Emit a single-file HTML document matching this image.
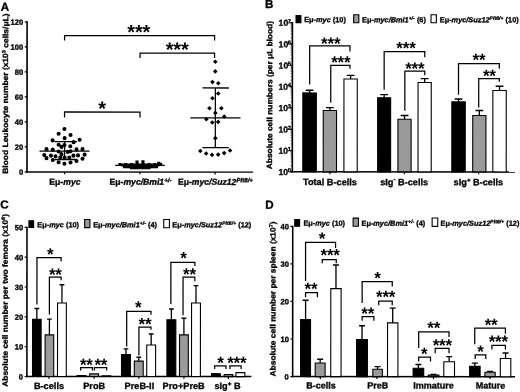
<!DOCTYPE html>
<html><head><meta charset="utf-8"><title>Figure</title>
<style>html,body{margin:0;padding:0;background:#fff;}svg{display:block;will-change:transform;}text{font-family:'Liberation Sans', sans-serif;font-weight:bold;fill:#000;stroke:#000;stroke-width:0.32px;}.st{stroke:none;}</style>
</head><body>
<svg width="520" height="392" viewBox="0 0 520 392">
<rect width="520" height="392" fill="#fff"/>
<g transform="rotate(0.03 260 196)"><!--ROOTG-->
<text x="0.70" y="10.80" font-size="11.6" text-anchor="start" >A</text>
<text x="265.00" y="8.10" font-size="11.6" text-anchor="start" >B</text>
<text x="0.20" y="208.60" font-size="11.6" text-anchor="start" >C</text>
<text x="265.20" y="208.80" font-size="11.6" text-anchor="start" >D</text>
<line x1="27.00" y1="21.40" x2="27.00" y2="172.80" stroke="#000" stroke-width="1.6" stroke-linecap="butt"/>
<line x1="26.20" y1="172.10" x2="253.10" y2="172.10" stroke="#000" stroke-width="1.35" stroke-linecap="butt"/>
<line x1="24.70" y1="172.00" x2="27.00" y2="172.00" stroke="#000" stroke-width="1.2" stroke-linecap="butt"/>
<text x="23.20" y="174.95" font-size="7.6" text-anchor="end" >0</text>
<line x1="24.70" y1="147.00" x2="27.00" y2="147.00" stroke="#000" stroke-width="1.2" stroke-linecap="butt"/>
<text x="23.20" y="149.95" font-size="7.6" text-anchor="end" >20</text>
<line x1="24.70" y1="122.00" x2="27.00" y2="122.00" stroke="#000" stroke-width="1.2" stroke-linecap="butt"/>
<text x="23.20" y="124.95" font-size="7.6" text-anchor="end" >40</text>
<line x1="24.70" y1="97.00" x2="27.00" y2="97.00" stroke="#000" stroke-width="1.2" stroke-linecap="butt"/>
<text x="23.20" y="99.95" font-size="7.6" text-anchor="end" >60</text>
<line x1="24.70" y1="72.00" x2="27.00" y2="72.00" stroke="#000" stroke-width="1.2" stroke-linecap="butt"/>
<text x="23.20" y="74.95" font-size="7.6" text-anchor="end" >80</text>
<line x1="24.70" y1="47.00" x2="27.00" y2="47.00" stroke="#000" stroke-width="1.2" stroke-linecap="butt"/>
<text x="23.20" y="49.95" font-size="7.6" text-anchor="end" >100</text>
<line x1="24.70" y1="22.00" x2="27.00" y2="22.00" stroke="#000" stroke-width="1.2" stroke-linecap="butt"/>
<text x="23.20" y="24.95" font-size="7.6" text-anchor="end" >120</text>
<text transform="translate(8.05,173.9) rotate(-90) scale(1.097,1)" font-size="7.7">Blood Leukocyte number (x10<tspan dy="-2.7" font-size="5.1">3</tspan><tspan dy="2.7" font-size="7.7"> cells/μL)</tspan></text>
<line x1="64.60" y1="172.00" x2="64.60" y2="174.40" stroke="#000" stroke-width="1.2" stroke-linecap="butt"/>
<line x1="139.80" y1="172.00" x2="139.80" y2="174.40" stroke="#000" stroke-width="1.2" stroke-linecap="butt"/>
<line x1="215.10" y1="172.00" x2="215.10" y2="174.40" stroke="#000" stroke-width="1.2" stroke-linecap="butt"/>
<text x="49.30" y="184.90" font-size="8.65" text-anchor="start" >Eμ-<tspan font-style="italic">myc</tspan></text>
<text x="109.50" y="184.90" font-size="8.65" text-anchor="start" >Eμ-<tspan font-style="italic">myc</tspan><tspan font-style="italic">/Bmi1</tspan><tspan dy="-2.68" font-size="6.14" font-style="italic" letter-spacing="0">+/-</tspan><tspan dy="2.68" font-size="8.65">&#8203;</tspan></text>
<text x="177.90" y="184.90" font-size="8.65" text-anchor="start" >Eμ-<tspan font-style="italic">myc</tspan><tspan font-style="italic">/Suz12</tspan><tspan dy="-2.68" font-size="6.14" font-style="italic" letter-spacing="0">Plt8/+</tspan><tspan dy="2.68" font-size="8.65">&#8203;</tspan></text>
<circle cx="64.40" cy="129.10" r="2.05"/>
<circle cx="58.60" cy="133.90" r="2.05"/>
<circle cx="70.50" cy="135.10" r="2.05"/>
<circle cx="64.60" cy="138.25" r="2.05"/>
<circle cx="52.60" cy="140.50" r="2.05"/>
<circle cx="79.60" cy="139.90" r="2.05"/>
<circle cx="73.60" cy="142.25" r="2.05"/>
<circle cx="58.60" cy="144.90" r="2.05"/>
<circle cx="64.40" cy="145.10" r="2.05"/>
<circle cx="61.50" cy="147.00" r="2.05"/>
<circle cx="70.25" cy="146.40" r="2.05"/>
<circle cx="46.50" cy="149.25" r="2.05"/>
<circle cx="52.75" cy="149.75" r="2.05"/>
<circle cx="76.50" cy="149.50" r="2.05"/>
<circle cx="82.50" cy="149.25" r="2.05"/>
<circle cx="58.60" cy="151.60" r="2.05"/>
<circle cx="67.75" cy="152.00" r="2.05"/>
<circle cx="70.50" cy="151.40" r="2.05"/>
<circle cx="61.50" cy="154.25" r="2.05"/>
<circle cx="44.25" cy="155.10" r="2.05"/>
<circle cx="84.60" cy="154.75" r="2.05"/>
<circle cx="50.90" cy="155.75" r="2.05"/>
<circle cx="55.50" cy="156.40" r="2.05"/>
<circle cx="73.40" cy="155.75" r="2.05"/>
<circle cx="78.00" cy="155.50" r="2.05"/>
<circle cx="46.50" cy="158.25" r="2.05"/>
<circle cx="60.25" cy="157.60" r="2.05"/>
<circle cx="64.60" cy="157.60" r="2.05"/>
<circle cx="69.25" cy="157.60" r="2.05"/>
<circle cx="82.50" cy="158.90" r="2.05"/>
<circle cx="52.75" cy="160.10" r="2.05"/>
<circle cx="76.50" cy="161.10" r="2.05"/>
<circle cx="58.60" cy="162.40" r="2.05"/>
<circle cx="70.50" cy="162.60" r="2.05"/>
<circle cx="64.40" cy="163.90" r="2.05"/>
<line x1="39.50" y1="151.30" x2="89.50" y2="151.30" stroke="#000" stroke-width="1.3" stroke-linecap="butt"/>
<line x1="64.60" y1="141.80" x2="64.60" y2="159.60" stroke="#000" stroke-width="1.2" stroke-linecap="butt"/>
<line x1="54.50" y1="141.80" x2="77.00" y2="141.80" stroke="#000" stroke-width="1.3" stroke-linecap="butt"/>
<line x1="54.50" y1="159.60" x2="77.00" y2="159.60" stroke="#000" stroke-width="1.3" stroke-linecap="butt"/>
<rect x="118.40" y="163.10" width="3.2" height="3.0"/>
<rect x="121.30" y="163.45" width="3.2" height="3.0"/>
<rect x="124.20" y="163.10" width="3.2" height="3.0"/>
<rect x="127.10" y="163.45" width="3.2" height="3.0"/>
<rect x="130.00" y="163.10" width="3.2" height="3.0"/>
<rect x="132.90" y="163.45" width="3.2" height="3.0"/>
<rect x="135.80" y="163.10" width="3.2" height="3.0"/>
<rect x="138.70" y="163.45" width="3.2" height="3.0"/>
<rect x="141.60" y="163.10" width="3.2" height="3.0"/>
<rect x="144.50" y="163.45" width="3.2" height="3.0"/>
<rect x="147.40" y="163.10" width="3.2" height="3.0"/>
<rect x="150.30" y="163.45" width="3.2" height="3.0"/>
<rect x="153.20" y="163.10" width="3.2" height="3.0"/>
<rect x="156.10" y="163.45" width="3.2" height="3.0"/>
<rect x="159.00" y="163.10" width="3.2" height="3.0"/>
<rect x="122.90" y="165.40" width="3.2" height="3.0"/>
<rect x="125.80" y="165.20" width="3.2" height="3.0"/>
<rect x="128.70" y="165.20" width="3.2" height="3.0"/>
<rect x="131.60" y="165.40" width="3.2" height="3.0"/>
<rect x="134.50" y="165.20" width="3.2" height="3.0"/>
<rect x="137.40" y="165.20" width="3.2" height="3.0"/>
<rect x="140.30" y="165.40" width="3.2" height="3.0"/>
<rect x="143.20" y="165.20" width="3.2" height="3.0"/>
<rect x="146.10" y="165.20" width="3.2" height="3.0"/>
<rect x="149.00" y="165.40" width="3.2" height="3.0"/>
<rect x="151.90" y="165.20" width="3.2" height="3.0"/>
<rect x="154.80" y="165.20" width="3.2" height="3.0"/>
<rect x="129.90" y="166.35" width="3.2" height="3.0"/>
<rect x="132.80" y="166.35" width="3.2" height="3.0"/>
<rect x="135.70" y="166.35" width="3.2" height="3.0"/>
<rect x="138.60" y="166.35" width="3.2" height="3.0"/>
<rect x="141.50" y="166.35" width="3.2" height="3.0"/>
<rect x="144.40" y="166.35" width="3.2" height="3.0"/>
<rect x="147.30" y="166.35" width="3.2" height="3.0"/>
<rect x="135.40" y="160.50" width="3.2" height="3.0"/>
<rect x="141.30" y="160.40" width="3.2" height="3.0"/>
<rect x="157.20" y="161.90" width="3.2" height="3.0"/>
<line x1="115.20" y1="165.45" x2="164.80" y2="165.45" stroke="#000" stroke-width="1.3" stroke-linecap="butt"/>
<path d="M215.20 59.50L217.50 61.80L215.20 64.10L212.90 61.80Z"/>
<path d="M215.20 69.10L217.50 71.40L215.20 73.70L212.90 71.40Z"/>
<path d="M212.40 79.80L214.70 82.10L212.40 84.40L210.10 82.10Z"/>
<path d="M218.20 81.00L220.50 83.30L218.20 85.60L215.90 83.30Z"/>
<path d="M218.20 91.20L220.50 93.50L218.20 95.80L215.90 93.50Z"/>
<path d="M212.40 96.00L214.70 98.30L212.40 100.60L210.10 98.30Z"/>
<path d="M209.40 106.00L211.70 108.30L209.40 110.60L207.10 108.30Z"/>
<path d="M221.30 106.00L223.60 108.30L221.30 110.60L219.00 108.30Z"/>
<path d="M215.30 110.60L217.60 112.90L215.30 115.20L213.00 112.90Z"/>
<path d="M224.20 114.20L226.50 116.50L224.20 118.80L221.90 116.50Z"/>
<path d="M206.30 117.00L208.60 119.30L206.30 121.60L204.00 119.30Z"/>
<path d="M212.20 120.20L214.50 122.50L212.20 124.80L209.90 122.50Z"/>
<path d="M218.10 119.60L220.40 121.90L218.10 124.20L215.80 121.90Z"/>
<path d="M215.30 135.85L217.60 138.15L215.30 140.45L213.00 138.15Z"/>
<path d="M200.30 148.80L202.60 151.10L200.30 153.40L198.00 151.10Z"/>
<path d="M206.15 151.20L208.45 153.50L206.15 155.80L203.85 153.50Z"/>
<path d="M212.00 152.60L214.30 154.90L212.00 157.20L209.70 154.90Z"/>
<path d="M218.15 152.30L220.45 154.60L218.15 156.90L215.85 154.60Z"/>
<path d="M224.15 150.80L226.45 153.10L224.15 155.40L221.85 153.10Z"/>
<path d="M230.00 148.20L232.30 150.50L230.00 152.80L227.70 150.50Z"/>
<line x1="190.30" y1="117.90" x2="240.50" y2="117.90" stroke="#000" stroke-width="1.3" stroke-linecap="butt"/>
<line x1="215.30" y1="88.00" x2="215.30" y2="147.70" stroke="#000" stroke-width="1.25" stroke-linecap="butt"/>
<line x1="202.40" y1="88.00" x2="228.80" y2="88.00" stroke="#000" stroke-width="1.3" stroke-linecap="butt"/>
<line x1="202.40" y1="147.70" x2="228.80" y2="147.70" stroke="#000" stroke-width="1.3" stroke-linecap="butt"/>
<path d="M64.50 40.50V35.70H214.50V40.50" fill="none" stroke="#000" stroke-width="1.25"/>
<text x="138.65" y="38.90" font-size="20.0" text-anchor="middle" letter-spacing="-0.2" class="st">***</text>
<path d="M140.00 58.00V53.10H214.50V58.00" fill="none" stroke="#000" stroke-width="1.25"/>
<text x="177.05" y="56.30" font-size="20.0" text-anchor="middle" letter-spacing="-0.2" class="st">***</text>
<path d="M64.50 117.60V112.10H140.00V117.60" fill="none" stroke="#000" stroke-width="1.25"/>
<text x="102.05" y="115.30" font-size="20.0" text-anchor="middle" letter-spacing="-0.2" class="st">*</text>
<line x1="292.30" y1="22.03" x2="292.30" y2="172.60" stroke="#000" stroke-width="1.6" stroke-linecap="butt"/>
<line x1="291.50" y1="171.80" x2="515.00" y2="171.80" stroke="#000" stroke-width="1.5" stroke-linecap="butt"/>
<line x1="290.10" y1="171.80" x2="292.30" y2="171.80" stroke="#000" stroke-width="1.2" stroke-linecap="butt"/>
<text x="288.10" y="175.00" font-size="8.6" text-anchor="end">10</text>
<text x="287.70" y="172.30" font-size="5.9">0</text>
<line x1="290.50" y1="165.39" x2="292.30" y2="165.39" stroke="#000" stroke-width="0.5" stroke-linecap="butt"/>
<line x1="290.50" y1="161.63" x2="292.30" y2="161.63" stroke="#000" stroke-width="0.5" stroke-linecap="butt"/>
<line x1="290.50" y1="158.97" x2="292.30" y2="158.97" stroke="#000" stroke-width="0.5" stroke-linecap="butt"/>
<line x1="290.50" y1="156.90" x2="292.30" y2="156.90" stroke="#000" stroke-width="0.5" stroke-linecap="butt"/>
<line x1="290.50" y1="155.22" x2="292.30" y2="155.22" stroke="#000" stroke-width="0.5" stroke-linecap="butt"/>
<line x1="290.50" y1="153.79" x2="292.30" y2="153.79" stroke="#000" stroke-width="0.5" stroke-linecap="butt"/>
<line x1="290.50" y1="152.56" x2="292.30" y2="152.56" stroke="#000" stroke-width="0.5" stroke-linecap="butt"/>
<line x1="290.50" y1="151.47" x2="292.30" y2="151.47" stroke="#000" stroke-width="0.5" stroke-linecap="butt"/>
<line x1="290.10" y1="150.49" x2="292.30" y2="150.49" stroke="#000" stroke-width="1.2" stroke-linecap="butt"/>
<text x="288.10" y="153.69" font-size="8.6" text-anchor="end">10</text>
<text x="287.70" y="150.99" font-size="5.9">1</text>
<line x1="290.50" y1="144.08" x2="292.30" y2="144.08" stroke="#000" stroke-width="0.5" stroke-linecap="butt"/>
<line x1="290.50" y1="140.32" x2="292.30" y2="140.32" stroke="#000" stroke-width="0.5" stroke-linecap="butt"/>
<line x1="290.50" y1="137.66" x2="292.30" y2="137.66" stroke="#000" stroke-width="0.5" stroke-linecap="butt"/>
<line x1="290.50" y1="135.59" x2="292.30" y2="135.59" stroke="#000" stroke-width="0.5" stroke-linecap="butt"/>
<line x1="290.50" y1="133.91" x2="292.30" y2="133.91" stroke="#000" stroke-width="0.5" stroke-linecap="butt"/>
<line x1="290.50" y1="132.48" x2="292.30" y2="132.48" stroke="#000" stroke-width="0.5" stroke-linecap="butt"/>
<line x1="290.50" y1="131.25" x2="292.30" y2="131.25" stroke="#000" stroke-width="0.5" stroke-linecap="butt"/>
<line x1="290.50" y1="130.16" x2="292.30" y2="130.16" stroke="#000" stroke-width="0.5" stroke-linecap="butt"/>
<line x1="290.10" y1="129.18" x2="292.30" y2="129.18" stroke="#000" stroke-width="1.2" stroke-linecap="butt"/>
<text x="288.10" y="132.38" font-size="8.6" text-anchor="end">10</text>
<text x="287.70" y="129.68" font-size="5.9">2</text>
<line x1="290.50" y1="122.77" x2="292.30" y2="122.77" stroke="#000" stroke-width="0.5" stroke-linecap="butt"/>
<line x1="290.50" y1="119.01" x2="292.30" y2="119.01" stroke="#000" stroke-width="0.5" stroke-linecap="butt"/>
<line x1="290.50" y1="116.35" x2="292.30" y2="116.35" stroke="#000" stroke-width="0.5" stroke-linecap="butt"/>
<line x1="290.50" y1="114.28" x2="292.30" y2="114.28" stroke="#000" stroke-width="0.5" stroke-linecap="butt"/>
<line x1="290.50" y1="112.60" x2="292.30" y2="112.60" stroke="#000" stroke-width="0.5" stroke-linecap="butt"/>
<line x1="290.50" y1="111.17" x2="292.30" y2="111.17" stroke="#000" stroke-width="0.5" stroke-linecap="butt"/>
<line x1="290.50" y1="109.94" x2="292.30" y2="109.94" stroke="#000" stroke-width="0.5" stroke-linecap="butt"/>
<line x1="290.50" y1="108.85" x2="292.30" y2="108.85" stroke="#000" stroke-width="0.5" stroke-linecap="butt"/>
<line x1="290.10" y1="107.87" x2="292.30" y2="107.87" stroke="#000" stroke-width="1.2" stroke-linecap="butt"/>
<text x="288.10" y="111.07" font-size="8.6" text-anchor="end">10</text>
<text x="287.70" y="108.37" font-size="5.9">3</text>
<line x1="290.50" y1="101.46" x2="292.30" y2="101.46" stroke="#000" stroke-width="0.5" stroke-linecap="butt"/>
<line x1="290.50" y1="97.70" x2="292.30" y2="97.70" stroke="#000" stroke-width="0.5" stroke-linecap="butt"/>
<line x1="290.50" y1="95.04" x2="292.30" y2="95.04" stroke="#000" stroke-width="0.5" stroke-linecap="butt"/>
<line x1="290.50" y1="92.97" x2="292.30" y2="92.97" stroke="#000" stroke-width="0.5" stroke-linecap="butt"/>
<line x1="290.50" y1="91.29" x2="292.30" y2="91.29" stroke="#000" stroke-width="0.5" stroke-linecap="butt"/>
<line x1="290.50" y1="89.86" x2="292.30" y2="89.86" stroke="#000" stroke-width="0.5" stroke-linecap="butt"/>
<line x1="290.50" y1="88.63" x2="292.30" y2="88.63" stroke="#000" stroke-width="0.5" stroke-linecap="butt"/>
<line x1="290.50" y1="87.54" x2="292.30" y2="87.54" stroke="#000" stroke-width="0.5" stroke-linecap="butt"/>
<line x1="290.10" y1="86.56" x2="292.30" y2="86.56" stroke="#000" stroke-width="1.2" stroke-linecap="butt"/>
<text x="288.10" y="89.76" font-size="8.6" text-anchor="end">10</text>
<text x="287.70" y="87.06" font-size="5.9">4</text>
<line x1="290.50" y1="80.15" x2="292.30" y2="80.15" stroke="#000" stroke-width="0.5" stroke-linecap="butt"/>
<line x1="290.50" y1="76.39" x2="292.30" y2="76.39" stroke="#000" stroke-width="0.5" stroke-linecap="butt"/>
<line x1="290.50" y1="73.73" x2="292.30" y2="73.73" stroke="#000" stroke-width="0.5" stroke-linecap="butt"/>
<line x1="290.50" y1="71.66" x2="292.30" y2="71.66" stroke="#000" stroke-width="0.5" stroke-linecap="butt"/>
<line x1="290.50" y1="69.98" x2="292.30" y2="69.98" stroke="#000" stroke-width="0.5" stroke-linecap="butt"/>
<line x1="290.50" y1="68.55" x2="292.30" y2="68.55" stroke="#000" stroke-width="0.5" stroke-linecap="butt"/>
<line x1="290.50" y1="67.32" x2="292.30" y2="67.32" stroke="#000" stroke-width="0.5" stroke-linecap="butt"/>
<line x1="290.50" y1="66.23" x2="292.30" y2="66.23" stroke="#000" stroke-width="0.5" stroke-linecap="butt"/>
<line x1="290.10" y1="65.25" x2="292.30" y2="65.25" stroke="#000" stroke-width="1.2" stroke-linecap="butt"/>
<text x="288.10" y="68.45" font-size="8.6" text-anchor="end">10</text>
<text x="287.70" y="65.75" font-size="5.9">5</text>
<line x1="290.50" y1="58.84" x2="292.30" y2="58.84" stroke="#000" stroke-width="0.5" stroke-linecap="butt"/>
<line x1="290.50" y1="55.08" x2="292.30" y2="55.08" stroke="#000" stroke-width="0.5" stroke-linecap="butt"/>
<line x1="290.50" y1="52.42" x2="292.30" y2="52.42" stroke="#000" stroke-width="0.5" stroke-linecap="butt"/>
<line x1="290.50" y1="50.35" x2="292.30" y2="50.35" stroke="#000" stroke-width="0.5" stroke-linecap="butt"/>
<line x1="290.50" y1="48.67" x2="292.30" y2="48.67" stroke="#000" stroke-width="0.5" stroke-linecap="butt"/>
<line x1="290.50" y1="47.24" x2="292.30" y2="47.24" stroke="#000" stroke-width="0.5" stroke-linecap="butt"/>
<line x1="290.50" y1="46.01" x2="292.30" y2="46.01" stroke="#000" stroke-width="0.5" stroke-linecap="butt"/>
<line x1="290.50" y1="44.92" x2="292.30" y2="44.92" stroke="#000" stroke-width="0.5" stroke-linecap="butt"/>
<line x1="290.10" y1="43.94" x2="292.30" y2="43.94" stroke="#000" stroke-width="1.2" stroke-linecap="butt"/>
<text x="288.10" y="47.14" font-size="8.6" text-anchor="end">10</text>
<text x="287.70" y="44.44" font-size="5.9">6</text>
<line x1="290.50" y1="37.53" x2="292.30" y2="37.53" stroke="#000" stroke-width="0.5" stroke-linecap="butt"/>
<line x1="290.50" y1="33.77" x2="292.30" y2="33.77" stroke="#000" stroke-width="0.5" stroke-linecap="butt"/>
<line x1="290.50" y1="31.11" x2="292.30" y2="31.11" stroke="#000" stroke-width="0.5" stroke-linecap="butt"/>
<line x1="290.50" y1="29.04" x2="292.30" y2="29.04" stroke="#000" stroke-width="0.5" stroke-linecap="butt"/>
<line x1="290.50" y1="27.36" x2="292.30" y2="27.36" stroke="#000" stroke-width="0.5" stroke-linecap="butt"/>
<line x1="290.50" y1="25.93" x2="292.30" y2="25.93" stroke="#000" stroke-width="0.5" stroke-linecap="butt"/>
<line x1="290.50" y1="24.70" x2="292.30" y2="24.70" stroke="#000" stroke-width="0.5" stroke-linecap="butt"/>
<line x1="290.50" y1="23.61" x2="292.30" y2="23.61" stroke="#000" stroke-width="0.5" stroke-linecap="butt"/>
<line x1="290.10" y1="22.63" x2="292.30" y2="22.63" stroke="#000" stroke-width="1.2" stroke-linecap="butt"/>
<text x="288.10" y="25.83" font-size="8.6" text-anchor="end">10</text>
<text x="287.70" y="23.13" font-size="5.9">7</text>
<text transform="translate(272.1,169.2) rotate(-90) scale(1.09,1)" font-size="7.69">Absolute cell numbers (per μL blood)</text>
<rect x="295.95" y="15.65" width="4.90" height="7.00" fill="#000" stroke="#000" stroke-width="1.1"/>
<text x="304.10" y="22.10" font-size="7.35" text-anchor="start" >Eμ-<tspan font-style="italic">myc</tspan> (10)</text>
<rect x="353.55" y="14.75" width="5.20" height="7.90" fill="#9a9a9a" stroke="#000" stroke-width="1.1"/>
<text x="362.00" y="22.10" font-size="7.35" text-anchor="start" >Eμ-<tspan font-style="italic">myc</tspan><tspan font-style="italic">/Bmi1</tspan><tspan dy="-2.50" font-size="4.85" font-style="italic" letter-spacing="0.15">+/-</tspan><tspan dy="2.50" font-size="7.35">&#8203;</tspan> (6)</text>
<rect x="430.95" y="14.65" width="5.30" height="8.00" fill="#fff" stroke="#000" stroke-width="1.1"/>
<text x="439.70" y="22.10" font-size="7.35" text-anchor="start" >Eμ-<tspan font-style="italic">myc</tspan><tspan font-style="italic">/Suz12</tspan><tspan dy="-2.50" font-size="4.85" font-style="italic" letter-spacing="0.15">Plt8/+</tspan><tspan dy="2.50" font-size="7.35">&#8203;</tspan> (10)</text>
<line x1="309.55" y1="92.90" x2="309.55" y2="90.20" stroke="#000" stroke-width="1.3" stroke-linecap="butt"/>
<line x1="305.65" y1="90.20" x2="313.45" y2="90.20" stroke="#000" stroke-width="1.35" stroke-linecap="butt"/>
<rect x="302.80" y="92.90" width="13.50" height="78.90" fill="#000" stroke="#000" stroke-width="1.1"/>
<line x1="329.85" y1="110.40" x2="329.85" y2="107.60" stroke="#000" stroke-width="1.3" stroke-linecap="butt"/>
<line x1="325.95" y1="107.60" x2="333.75" y2="107.60" stroke="#000" stroke-width="1.35" stroke-linecap="butt"/>
<rect x="323.20" y="110.40" width="13.30" height="61.40" fill="#9a9a9a" stroke="#000" stroke-width="1.1"/>
<line x1="350.55" y1="79.00" x2="350.55" y2="75.30" stroke="#000" stroke-width="1.3" stroke-linecap="butt"/>
<line x1="346.65" y1="75.30" x2="354.45" y2="75.30" stroke="#000" stroke-width="1.35" stroke-linecap="butt"/>
<rect x="343.90" y="79.00" width="13.30" height="92.80" fill="#fff" stroke="#000" stroke-width="1.1"/>
<line x1="384.10" y1="97.75" x2="384.10" y2="94.50" stroke="#000" stroke-width="1.3" stroke-linecap="butt"/>
<line x1="380.20" y1="94.50" x2="388.00" y2="94.50" stroke="#000" stroke-width="1.35" stroke-linecap="butt"/>
<rect x="377.60" y="97.75" width="13.00" height="74.05" fill="#000" stroke="#000" stroke-width="1.1"/>
<line x1="404.50" y1="119.20" x2="404.50" y2="115.40" stroke="#000" stroke-width="1.3" stroke-linecap="butt"/>
<line x1="400.60" y1="115.40" x2="408.40" y2="115.40" stroke="#000" stroke-width="1.35" stroke-linecap="butt"/>
<rect x="397.90" y="119.20" width="13.20" height="52.60" fill="#9a9a9a" stroke="#000" stroke-width="1.1"/>
<line x1="424.60" y1="82.40" x2="424.60" y2="78.60" stroke="#000" stroke-width="1.3" stroke-linecap="butt"/>
<line x1="420.70" y1="78.60" x2="428.50" y2="78.60" stroke="#000" stroke-width="1.35" stroke-linecap="butt"/>
<rect x="418.00" y="82.40" width="13.20" height="89.40" fill="#fff" stroke="#000" stroke-width="1.1"/>
<line x1="458.50" y1="101.80" x2="458.50" y2="98.90" stroke="#000" stroke-width="1.3" stroke-linecap="butt"/>
<line x1="454.60" y1="98.90" x2="462.40" y2="98.90" stroke="#000" stroke-width="1.35" stroke-linecap="butt"/>
<rect x="451.80" y="101.80" width="13.40" height="70.00" fill="#000" stroke="#000" stroke-width="1.1"/>
<line x1="479.30" y1="115.40" x2="479.30" y2="110.40" stroke="#000" stroke-width="1.3" stroke-linecap="butt"/>
<line x1="475.40" y1="110.40" x2="483.20" y2="110.40" stroke="#000" stroke-width="1.35" stroke-linecap="butt"/>
<rect x="472.70" y="115.40" width="13.20" height="56.40" fill="#9a9a9a" stroke="#000" stroke-width="1.1"/>
<line x1="499.50" y1="90.40" x2="499.50" y2="86.10" stroke="#000" stroke-width="1.3" stroke-linecap="butt"/>
<line x1="495.60" y1="86.10" x2="503.40" y2="86.10" stroke="#000" stroke-width="1.35" stroke-linecap="butt"/>
<rect x="492.80" y="90.40" width="13.40" height="81.40" fill="#fff" stroke="#000" stroke-width="1.1"/>
<path d="M309.60 84.50V45.90H349.90V51.50" fill="none" stroke="#000" stroke-width="1.25"/>
<text x="330.60" y="49.27" font-size="17.0" text-anchor="middle" letter-spacing="-0.2" class="st">***</text>
<path d="M330.70 102.60V65.40H349.90V68.80" fill="none" stroke="#000" stroke-width="1.25"/>
<text x="340.75" y="67.87" font-size="17.0" text-anchor="middle" letter-spacing="-0.2" class="st">***</text>
<path d="M384.10 89.60V51.50H424.70V57.20" fill="none" stroke="#000" stroke-width="1.25"/>
<text x="405.90" y="53.57" font-size="17.0" text-anchor="middle" letter-spacing="-0.2" class="st">***</text>
<path d="M404.80 110.60V71.00H424.70V75.20" fill="none" stroke="#000" stroke-width="1.25"/>
<text x="414.70" y="74.22" font-size="17.0" text-anchor="middle" letter-spacing="-0.2" class="st">***</text>
<path d="M458.45 94.70V63.50H499.25V68.50" fill="none" stroke="#000" stroke-width="1.25"/>
<text x="478.85" y="65.32" font-size="17.0" text-anchor="middle" letter-spacing="-0.2" class="st">**</text>
<path d="M478.65 107.30V78.55H499.25V81.70" fill="none" stroke="#000" stroke-width="1.25"/>
<text x="489.25" y="81.32" font-size="17.0" text-anchor="middle" letter-spacing="-0.2" class="st">**</text>
<line x1="329.90" y1="171.80" x2="329.90" y2="174.10" stroke="#000" stroke-width="1.2" stroke-linecap="butt"/>
<line x1="404.40" y1="171.80" x2="404.40" y2="174.10" stroke="#000" stroke-width="1.2" stroke-linecap="butt"/>
<line x1="478.60" y1="171.80" x2="478.60" y2="174.10" stroke="#000" stroke-width="1.2" stroke-linecap="butt"/>
<text x="303.00" y="185.10" font-size="9.2" text-anchor="start" >Total B-cells</text>
<text x="380.2" y="185.1" font-size="9.2">sIg<tspan dy="-4.0" font-size="6">-</tspan><tspan dy="4.0" font-size="9.2"> B-cells</tspan></text>
<text x="453.6" y="185.1" font-size="9.2">sIg<tspan dy="-3.0" font-size="6.2">+</tspan><tspan dy="3.0" font-size="9.2"> B-cells</tspan></text>
<line x1="27.00" y1="226.90" x2="27.00" y2="377.40" stroke="#000" stroke-width="1.6" stroke-linecap="butt"/>
<line x1="26.20" y1="376.60" x2="251.50" y2="376.60" stroke="#000" stroke-width="1.5" stroke-linecap="butt"/>
<line x1="24.70" y1="376.60" x2="27.00" y2="376.60" stroke="#000" stroke-width="1.2" stroke-linecap="butt"/>
<text x="23.20" y="379.55" font-size="7.6" text-anchor="end" >0</text>
<line x1="24.70" y1="346.78" x2="27.00" y2="346.78" stroke="#000" stroke-width="1.2" stroke-linecap="butt"/>
<text x="23.20" y="349.73" font-size="7.6" text-anchor="end" >10</text>
<line x1="24.70" y1="316.96" x2="27.00" y2="316.96" stroke="#000" stroke-width="1.2" stroke-linecap="butt"/>
<text x="23.20" y="319.91" font-size="7.6" text-anchor="end" >20</text>
<line x1="24.70" y1="287.14" x2="27.00" y2="287.14" stroke="#000" stroke-width="1.2" stroke-linecap="butt"/>
<text x="23.20" y="290.09" font-size="7.6" text-anchor="end" >30</text>
<line x1="24.70" y1="257.32" x2="27.00" y2="257.32" stroke="#000" stroke-width="1.2" stroke-linecap="butt"/>
<text x="23.20" y="260.27" font-size="7.6" text-anchor="end" >40</text>
<line x1="24.70" y1="227.50" x2="27.00" y2="227.50" stroke="#000" stroke-width="1.2" stroke-linecap="butt"/>
<text x="23.20" y="230.45" font-size="7.6" text-anchor="end" >50</text>
<text transform="translate(7.8,386.9) rotate(-90) scale(1.09,1)" font-size="7.7">Absolute cell number per two femora (x10<tspan dy="-2.7" font-size="5.1">6</tspan><tspan dy="2.7" font-size="7.7">)</tspan></text>
<rect x="28.95" y="220.95" width="4.70" height="6.70" fill="#000" stroke="#000" stroke-width="1.1"/>
<text x="37.40" y="227.30" font-size="7.35" text-anchor="start" >Eμ-<tspan font-style="italic">myc</tspan> (10)</text>
<rect x="84.65" y="219.65" width="5.30" height="8.10" fill="#9a9a9a" stroke="#000" stroke-width="1.1"/>
<text x="93.20" y="227.30" font-size="7.35" text-anchor="start" >Eμ-<tspan font-style="italic">myc</tspan><tspan font-style="italic">/Bmi1</tspan><tspan dy="-2.50" font-size="4.85" font-style="italic" letter-spacing="0.15">+/-</tspan><tspan dy="2.50" font-size="7.35">&#8203;</tspan> (4)</text>
<rect x="163.75" y="219.55" width="5.70" height="8.20" fill="#fff" stroke="#000" stroke-width="1.1"/>
<text x="172.40" y="227.30" font-size="7.35" text-anchor="start" >Eμ-<tspan font-style="italic">myc</tspan><tspan font-style="italic">/Suz12</tspan><tspan dy="-2.50" font-size="4.85" font-style="italic" letter-spacing="0.15">Plt8/+</tspan><tspan dy="2.50" font-size="7.35">&#8203;</tspan> (12)</text>
<line x1="36.90" y1="319.50" x2="36.90" y2="308.60" stroke="#000" stroke-width="1.3" stroke-linecap="butt"/>
<line x1="34.50" y1="308.60" x2="39.30" y2="308.60" stroke="#000" stroke-width="1.35" stroke-linecap="butt"/>
<rect x="32.60" y="319.50" width="8.60" height="57.10" fill="#000" stroke="#000" stroke-width="1.1"/>
<line x1="49.50" y1="335.00" x2="49.50" y2="319.20" stroke="#000" stroke-width="1.3" stroke-linecap="butt"/>
<line x1="47.10" y1="319.20" x2="51.90" y2="319.20" stroke="#000" stroke-width="1.35" stroke-linecap="butt"/>
<rect x="45.20" y="335.00" width="8.60" height="41.60" fill="#9a9a9a" stroke="#000" stroke-width="1.1"/>
<line x1="62.00" y1="303.10" x2="62.00" y2="284.90" stroke="#000" stroke-width="1.3" stroke-linecap="butt"/>
<line x1="59.60" y1="284.90" x2="64.40" y2="284.90" stroke="#000" stroke-width="1.35" stroke-linecap="butt"/>
<rect x="57.60" y="303.10" width="8.80" height="73.50" fill="#fff" stroke="#000" stroke-width="1.1"/>
<rect x="77.20" y="375.60" width="8.80" height="1.00" fill="#000" stroke="#000" stroke-width="1.1"/>
<rect x="89.80" y="374.00" width="8.80" height="2.60" fill="#9a9a9a" stroke="#000" stroke-width="1.1"/>
<rect x="102.20" y="375.80" width="8.80" height="0.80" fill="#fff" stroke="#000" stroke-width="1.1"/>
<line x1="126.05" y1="354.60" x2="126.05" y2="349.00" stroke="#000" stroke-width="1.3" stroke-linecap="butt"/>
<line x1="123.65" y1="349.00" x2="128.45" y2="349.00" stroke="#000" stroke-width="1.35" stroke-linecap="butt"/>
<rect x="121.60" y="354.60" width="8.90" height="22.00" fill="#000" stroke="#000" stroke-width="1.1"/>
<line x1="138.85" y1="361.20" x2="138.85" y2="357.30" stroke="#000" stroke-width="1.3" stroke-linecap="butt"/>
<line x1="136.45" y1="357.30" x2="141.25" y2="357.30" stroke="#000" stroke-width="1.35" stroke-linecap="butt"/>
<rect x="134.40" y="361.20" width="8.90" height="15.40" fill="#9a9a9a" stroke="#000" stroke-width="1.1"/>
<line x1="151.25" y1="345.00" x2="151.25" y2="334.10" stroke="#000" stroke-width="1.3" stroke-linecap="butt"/>
<line x1="148.85" y1="334.10" x2="153.65" y2="334.10" stroke="#000" stroke-width="1.35" stroke-linecap="butt"/>
<rect x="146.80" y="345.00" width="8.90" height="31.60" fill="#fff" stroke="#000" stroke-width="1.1"/>
<line x1="171.45" y1="319.80" x2="171.45" y2="309.00" stroke="#000" stroke-width="1.3" stroke-linecap="butt"/>
<line x1="169.05" y1="309.00" x2="173.85" y2="309.00" stroke="#000" stroke-width="1.35" stroke-linecap="butt"/>
<rect x="167.00" y="319.80" width="8.90" height="56.80" fill="#000" stroke="#000" stroke-width="1.1"/>
<line x1="184.00" y1="334.90" x2="184.00" y2="318.30" stroke="#000" stroke-width="1.3" stroke-linecap="butt"/>
<line x1="181.60" y1="318.30" x2="186.40" y2="318.30" stroke="#000" stroke-width="1.35" stroke-linecap="butt"/>
<rect x="179.60" y="334.90" width="8.80" height="41.70" fill="#9a9a9a" stroke="#000" stroke-width="1.1"/>
<line x1="196.05" y1="303.10" x2="196.05" y2="285.70" stroke="#000" stroke-width="1.3" stroke-linecap="butt"/>
<line x1="193.65" y1="285.70" x2="198.45" y2="285.70" stroke="#000" stroke-width="1.35" stroke-linecap="butt"/>
<rect x="191.60" y="303.10" width="8.90" height="73.50" fill="#fff" stroke="#000" stroke-width="1.1"/>
<rect x="211.60" y="373.70" width="8.90" height="2.90" fill="#000" stroke="#000" stroke-width="1.1"/>
<rect x="224.30" y="374.60" width="8.50" height="2.00" fill="#9a9a9a" stroke="#000" stroke-width="1.1"/>
<rect x="236.00" y="372.60" width="8.90" height="4.00" fill="#fff" stroke="#000" stroke-width="1.1"/>
<path d="M37.00 304.50V257.80H61.15V261.30" fill="none" stroke="#000" stroke-width="1.25"/>
<text x="50.35" y="260.17" font-size="17.0" text-anchor="middle" letter-spacing="-0.2" class="st">*</text>
<path d="M49.45 314.50V277.20H61.15V280.40" fill="none" stroke="#000" stroke-width="1.25"/>
<text x="55.40" y="280.32" font-size="17.0" text-anchor="middle" letter-spacing="-0.2" class="st">**</text>
<path d="M80.75 370.70V367.80H92.50V370.70" fill="none" stroke="#000" stroke-width="1.25"/>
<text x="86.40" y="370.67" font-size="17.0" text-anchor="middle" letter-spacing="-0.2" class="st">**</text>
<path d="M94.50 370.70V367.80H106.75V370.70" fill="none" stroke="#000" stroke-width="1.25"/>
<text x="100.90" y="370.67" font-size="17.0" text-anchor="middle" letter-spacing="-0.2" class="st">**</text>
<path d="M126.75 346.60V311.35H151.05V314.85" fill="none" stroke="#000" stroke-width="1.25"/>
<text x="138.35" y="313.07" font-size="17.0" text-anchor="middle" letter-spacing="-0.2" class="st">*</text>
<path d="M139.00 355.50V327.20H151.05V329.90" fill="none" stroke="#000" stroke-width="1.25"/>
<text x="145.05" y="329.87" font-size="17.0" text-anchor="middle" letter-spacing="-0.2" class="st">**</text>
<path d="M170.90 304.10V262.40H194.90V266.00" fill="none" stroke="#000" stroke-width="1.25"/>
<text x="183.60" y="263.82" font-size="17.0" text-anchor="middle" letter-spacing="-0.2" class="st">*</text>
<path d="M183.10 315.20V277.15H194.90V281.40" fill="none" stroke="#000" stroke-width="1.25"/>
<text x="189.50" y="280.17" font-size="17.0" text-anchor="middle" letter-spacing="-0.2" class="st">**</text>
<path d="M214.70 368.90V365.90H226.10V368.90" fill="none" stroke="#000" stroke-width="1.25"/>
<text x="220.50" y="368.52" font-size="17.0" text-anchor="middle" letter-spacing="-0.2" class="st">*</text>
<path d="M230.00 368.90V365.90H241.20V368.90" fill="none" stroke="#000" stroke-width="1.25"/>
<text x="236.85" y="368.52" font-size="17.0" text-anchor="middle" letter-spacing="-0.2" class="st">***</text>
<line x1="49.10" y1="376.60" x2="49.10" y2="378.90" stroke="#000" stroke-width="1.2" stroke-linecap="butt"/>
<line x1="94.20" y1="376.60" x2="94.20" y2="378.90" stroke="#000" stroke-width="1.2" stroke-linecap="butt"/>
<line x1="138.90" y1="376.60" x2="138.90" y2="378.90" stroke="#000" stroke-width="1.2" stroke-linecap="butt"/>
<line x1="184.00" y1="376.60" x2="184.00" y2="378.90" stroke="#000" stroke-width="1.2" stroke-linecap="butt"/>
<line x1="228.50" y1="376.60" x2="228.50" y2="378.90" stroke="#000" stroke-width="1.2" stroke-linecap="butt"/>
<text x="49.10" y="389.00" font-size="9.2" text-anchor="middle" >B-cells</text>
<text x="94.30" y="389.00" font-size="9.2" text-anchor="middle" >ProB</text>
<text x="139.50" y="389.00" font-size="9.2" text-anchor="middle" >PreB-II</text>
<text x="183.80" y="389.00" font-size="9.2" text-anchor="middle" >Pro+PreB</text>
<text x="214.5" y="389.0" font-size="9.2">sIg<tspan dy="-3.0" font-size="6.4">+</tspan><tspan dy="3.0" font-size="9.2"> B</tspan></text>
<line x1="292.75" y1="225.67" x2="292.75" y2="377.35" stroke="#000" stroke-width="1.6" stroke-linecap="butt"/>
<line x1="291.95" y1="376.55" x2="515.20" y2="376.55" stroke="#000" stroke-width="1.5" stroke-linecap="butt"/>
<line x1="290.45" y1="376.55" x2="292.75" y2="376.55" stroke="#000" stroke-width="1.2" stroke-linecap="butt"/>
<text x="288.95" y="379.50" font-size="7.6" text-anchor="end" >0</text>
<line x1="290.45" y1="338.98" x2="292.75" y2="338.98" stroke="#000" stroke-width="1.2" stroke-linecap="butt"/>
<text x="288.95" y="341.93" font-size="7.6" text-anchor="end" >10</text>
<line x1="290.45" y1="301.41" x2="292.75" y2="301.41" stroke="#000" stroke-width="1.2" stroke-linecap="butt"/>
<text x="288.95" y="304.36" font-size="7.6" text-anchor="end" >20</text>
<line x1="290.45" y1="263.84" x2="292.75" y2="263.84" stroke="#000" stroke-width="1.2" stroke-linecap="butt"/>
<text x="288.95" y="266.79" font-size="7.6" text-anchor="end" >30</text>
<line x1="290.45" y1="226.27" x2="292.75" y2="226.27" stroke="#000" stroke-width="1.2" stroke-linecap="butt"/>
<text x="288.95" y="229.22" font-size="7.6" text-anchor="end" >40</text>
<text transform="translate(275.5,376.5) rotate(-90) scale(1.09,1)" font-size="7.73">Absolute cell number per spleen (x10<tspan dy="-2.7" font-size="5.1">7</tspan><tspan dy="2.7" font-size="7.73">)</tspan></text>
<rect x="294.75" y="219.45" width="4.90" height="6.70" fill="#000" stroke="#000" stroke-width="1.1"/>
<text x="303.40" y="225.60" font-size="7.35" text-anchor="start" >Eμ-<tspan font-style="italic">myc</tspan> (10)</text>
<rect x="353.15" y="218.05" width="5.30" height="8.20" fill="#9a9a9a" stroke="#000" stroke-width="1.1"/>
<text x="361.50" y="225.60" font-size="7.35" text-anchor="start" >Eμ-<tspan font-style="italic">myc</tspan><tspan font-style="italic">/Bmi1</tspan><tspan dy="-2.50" font-size="4.85" font-style="italic" letter-spacing="0.15">+/-</tspan><tspan dy="2.50" font-size="7.35">&#8203;</tspan> (4)</text>
<rect x="432.15" y="217.95" width="5.60" height="8.30" fill="#fff" stroke="#000" stroke-width="1.1"/>
<text x="440.50" y="225.60" font-size="7.35" text-anchor="start" >Eμ-<tspan font-style="italic">myc</tspan><tspan font-style="italic">/Suz12</tspan><tspan dy="-2.50" font-size="4.85" font-style="italic" letter-spacing="0.15">Plt8/+</tspan><tspan dy="2.50" font-size="7.35">&#8203;</tspan> (12)</text>
<line x1="305.65" y1="319.45" x2="305.65" y2="300.20" stroke="#000" stroke-width="1.3" stroke-linecap="butt"/>
<line x1="302.65" y1="300.20" x2="308.65" y2="300.20" stroke="#000" stroke-width="1.35" stroke-linecap="butt"/>
<rect x="300.70" y="319.45" width="9.90" height="57.10" fill="#000" stroke="#000" stroke-width="1.1"/>
<line x1="320.25" y1="362.90" x2="320.25" y2="359.20" stroke="#000" stroke-width="1.3" stroke-linecap="butt"/>
<line x1="317.25" y1="359.20" x2="323.25" y2="359.20" stroke="#000" stroke-width="1.35" stroke-linecap="butt"/>
<rect x="315.30" y="362.90" width="9.90" height="13.65" fill="#9a9a9a" stroke="#000" stroke-width="1.1"/>
<line x1="336.00" y1="288.60" x2="336.00" y2="265.00" stroke="#000" stroke-width="1.3" stroke-linecap="butt"/>
<line x1="333.00" y1="265.00" x2="339.00" y2="265.00" stroke="#000" stroke-width="1.35" stroke-linecap="butt"/>
<rect x="330.85" y="288.60" width="10.30" height="87.95" fill="#fff" stroke="#000" stroke-width="1.1"/>
<line x1="362.10" y1="339.40" x2="362.10" y2="325.70" stroke="#000" stroke-width="1.3" stroke-linecap="butt"/>
<line x1="359.10" y1="325.70" x2="365.10" y2="325.70" stroke="#000" stroke-width="1.35" stroke-linecap="butt"/>
<rect x="356.70" y="339.40" width="10.80" height="37.15" fill="#000" stroke="#000" stroke-width="1.1"/>
<line x1="377.65" y1="369.20" x2="377.65" y2="366.60" stroke="#000" stroke-width="1.3" stroke-linecap="butt"/>
<line x1="374.65" y1="366.60" x2="380.65" y2="366.60" stroke="#000" stroke-width="1.35" stroke-linecap="butt"/>
<rect x="372.90" y="369.20" width="9.50" height="7.35" fill="#9a9a9a" stroke="#000" stroke-width="1.1"/>
<line x1="392.80" y1="322.85" x2="392.80" y2="308.05" stroke="#000" stroke-width="1.3" stroke-linecap="butt"/>
<line x1="389.80" y1="308.05" x2="395.80" y2="308.05" stroke="#000" stroke-width="1.35" stroke-linecap="butt"/>
<rect x="387.60" y="322.85" width="10.40" height="53.70" fill="#fff" stroke="#000" stroke-width="1.1"/>
<line x1="418.50" y1="368.20" x2="418.50" y2="364.40" stroke="#000" stroke-width="1.3" stroke-linecap="butt"/>
<line x1="415.50" y1="364.40" x2="421.50" y2="364.40" stroke="#000" stroke-width="1.35" stroke-linecap="butt"/>
<rect x="413.20" y="368.20" width="10.60" height="8.35" fill="#000" stroke="#000" stroke-width="1.1"/>
<line x1="433.70" y1="375.00" x2="433.70" y2="374.40" stroke="#000" stroke-width="1.3" stroke-linecap="butt"/>
<line x1="430.70" y1="374.40" x2="436.70" y2="374.40" stroke="#000" stroke-width="1.35" stroke-linecap="butt"/>
<rect x="428.40" y="375.00" width="10.60" height="1.55" fill="#9a9a9a" stroke="#000" stroke-width="1.1"/>
<line x1="449.25" y1="361.70" x2="449.25" y2="356.50" stroke="#000" stroke-width="1.3" stroke-linecap="butt"/>
<line x1="446.25" y1="356.50" x2="452.25" y2="356.50" stroke="#000" stroke-width="1.35" stroke-linecap="butt"/>
<rect x="443.90" y="361.70" width="10.70" height="14.85" fill="#fff" stroke="#000" stroke-width="1.1"/>
<line x1="474.95" y1="366.10" x2="474.95" y2="363.00" stroke="#000" stroke-width="1.3" stroke-linecap="butt"/>
<line x1="471.95" y1="363.00" x2="477.95" y2="363.00" stroke="#000" stroke-width="1.35" stroke-linecap="butt"/>
<rect x="469.70" y="366.10" width="10.50" height="10.45" fill="#000" stroke="#000" stroke-width="1.1"/>
<line x1="490.15" y1="372.20" x2="490.15" y2="371.20" stroke="#000" stroke-width="1.3" stroke-linecap="butt"/>
<line x1="487.15" y1="371.20" x2="493.15" y2="371.20" stroke="#000" stroke-width="1.35" stroke-linecap="butt"/>
<rect x="485.00" y="372.20" width="10.30" height="4.35" fill="#9a9a9a" stroke="#000" stroke-width="1.1"/>
<line x1="505.65" y1="358.40" x2="505.65" y2="352.90" stroke="#000" stroke-width="1.3" stroke-linecap="butt"/>
<line x1="502.65" y1="352.90" x2="508.65" y2="352.90" stroke="#000" stroke-width="1.35" stroke-linecap="butt"/>
<rect x="500.40" y="358.40" width="10.50" height="18.15" fill="#fff" stroke="#000" stroke-width="1.1"/>
<path d="M305.60 281.00V242.40H335.60V248.00" fill="none" stroke="#000" stroke-width="1.25"/>
<text x="322.10" y="244.12" font-size="17.0" text-anchor="middle" letter-spacing="-0.2" class="st">*</text>
<path d="M322.30 263.20V259.50H336.30V263.20" fill="none" stroke="#000" stroke-width="1.25"/>
<text x="330.20" y="260.77" font-size="17.0" text-anchor="middle" letter-spacing="-0.2" class="st">***</text>
<path d="M305.60 297.20V292.65H317.50V297.20" fill="none" stroke="#000" stroke-width="1.25"/>
<text x="311.05" y="294.47" font-size="17.0" text-anchor="middle" letter-spacing="-0.2" class="st">**</text>
<path d="M362.20 303.00V281.60H392.30V286.50" fill="none" stroke="#000" stroke-width="1.25"/>
<text x="377.50" y="283.62" font-size="17.0" text-anchor="middle" letter-spacing="-0.2" class="st">*</text>
<path d="M378.80 305.20V301.00H392.30V305.20" fill="none" stroke="#000" stroke-width="1.25"/>
<text x="385.65" y="302.47" font-size="17.0" text-anchor="middle" letter-spacing="-0.2" class="st">***</text>
<path d="M362.20 320.80V316.50H374.00V320.80" fill="none" stroke="#000" stroke-width="1.25"/>
<text x="367.80" y="319.32" font-size="17.0" text-anchor="middle" letter-spacing="-0.2" class="st">**</text>
<path d="M418.75 348.00V331.75H449.10V336.85" fill="none" stroke="#000" stroke-width="1.25"/>
<text x="433.80" y="333.47" font-size="17.0" text-anchor="middle" letter-spacing="-0.2" class="st">**</text>
<path d="M435.30 353.20V348.35H449.10V353.20" fill="none" stroke="#000" stroke-width="1.25"/>
<text x="442.40" y="350.87" font-size="17.0" text-anchor="middle" letter-spacing="-0.2" class="st">***</text>
<path d="M418.75 361.30V357.00H430.60V361.30" fill="none" stroke="#000" stroke-width="1.25"/>
<text x="424.30" y="359.37" font-size="17.0" text-anchor="middle" letter-spacing="-0.2" class="st">*</text>
<path d="M474.80 344.10V327.95H505.50V333.70" fill="none" stroke="#000" stroke-width="1.25"/>
<text x="491.20" y="330.37" font-size="17.0" text-anchor="middle" letter-spacing="-0.2" class="st">**</text>
<path d="M492.00 349.40V345.20H505.50V349.40" fill="none" stroke="#000" stroke-width="1.25"/>
<text x="498.35" y="347.02" font-size="17.0" text-anchor="middle" letter-spacing="-0.2" class="st">***</text>
<path d="M475.25 358.90V354.80H485.90V358.90" fill="none" stroke="#000" stroke-width="1.25"/>
<text x="480.50" y="357.12" font-size="17.0" text-anchor="middle" letter-spacing="-0.2" class="st">*</text>
<line x1="320.40" y1="376.55" x2="320.40" y2="378.85" stroke="#000" stroke-width="1.2" stroke-linecap="butt"/>
<line x1="377.10" y1="376.55" x2="377.10" y2="378.85" stroke="#000" stroke-width="1.2" stroke-linecap="butt"/>
<line x1="433.60" y1="376.55" x2="433.60" y2="378.85" stroke="#000" stroke-width="1.2" stroke-linecap="butt"/>
<line x1="490.10" y1="376.55" x2="490.10" y2="378.85" stroke="#000" stroke-width="1.2" stroke-linecap="butt"/>
<text x="321.00" y="388.50" font-size="9.0" text-anchor="middle" >B-cells</text>
<text x="377.90" y="388.50" font-size="9.0" text-anchor="middle" >PreB</text>
<text x="433.60" y="388.50" font-size="9.0" text-anchor="middle" >Immature</text>
<text x="490.50" y="388.50" font-size="9.0" text-anchor="middle" >Mature</text>
</g></svg></body></html>
